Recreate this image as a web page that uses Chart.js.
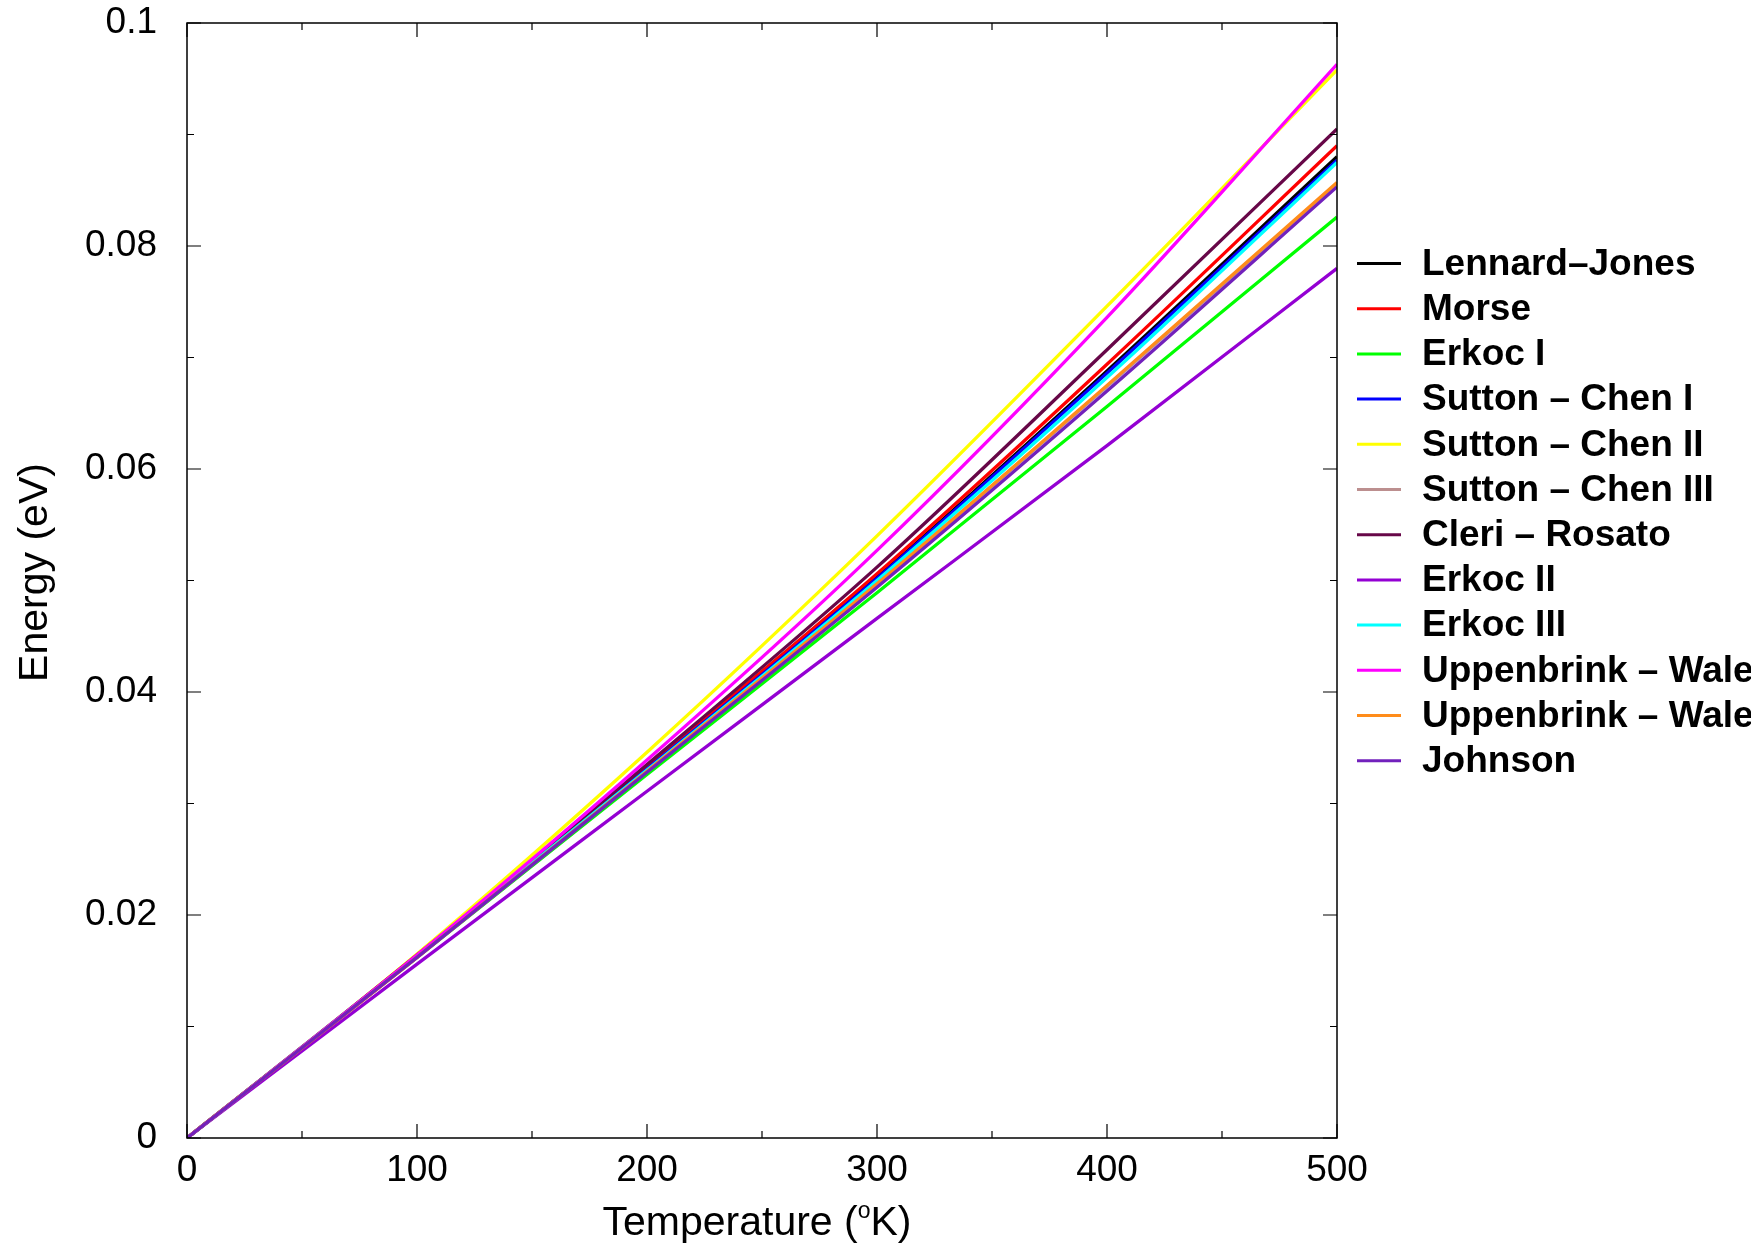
<!DOCTYPE html>
<html>
<head>
<meta charset="utf-8">
<script src="https://cdn.jsdelivr.net/npm/chart.js@4.4.1/dist/chart.umd.min.js"></script>
<style>
  html, body { margin: 0; padding: 0; background: #fff; }
  #wrap { width: 1751px; height: 1249px; position: relative; }
</style>
</head>
<body>
<div id="wrap"><canvas id="chart"></canvas></div>
<script>
// temperature grid (K) and thermal energy (eV) for each potential
const temperature = [0, 100, 200, 300, 400, 500];

const lennardJones   = [0, 0.0163, 0.0332, 0.0503, 0.0688, 0.0880];
const morse          = [0, 0.0163, 0.0333, 0.0506, 0.0694, 0.0890];
const erkocI         = [0, 0.0162, 0.0326, 0.0489, 0.0656, 0.0826];
const suttonChenI    = [0, 0.0163, 0.0331, 0.0502, 0.0686, 0.0877];
const suttonChenII   = [0, 0.0165, 0.0346, 0.0540, 0.0746, 0.0958];
const suttonChenIII  = [0, 0.0162, 0.0329, 0.0497, 0.0674, 0.0856];
const cleriRosato    = [0, 0.0164, 0.0335, 0.0512, 0.0707, 0.0905];
const erkocII        = [0, 0.0156, 0.0311, 0.0466, 0.0621, 0.0780];
const erkocIII       = [0, 0.0163, 0.0330, 0.0500, 0.0682, 0.0875];
const uppenbrinkI    = [0, 0.0164, 0.0339, 0.0527, 0.0736, 0.0963];
const uppenbrinkII   = [0, 0.0162, 0.0329, 0.0497, 0.0675, 0.0857];
const johnson        = [0, 0.0162, 0.0328, 0.0494, 0.0670, 0.0853];

const seriesNames = [
  'Lennard\u2013Jones', 'Morse', 'Erkoc I', 'Sutton \u2013 Chen I',
  'Sutton \u2013 Chen II', 'Sutton \u2013 Chen III', 'Cleri \u2013 Rosato',
  'Erkoc II', 'Erkoc III', 'Uppenbrink \u2013 Wales I',
  'Uppenbrink \u2013 Wales II', 'Johnson'
];
const seriesValues = [
  lennardJones, morse, erkocI, suttonChenI, suttonChenII, suttonChenIII,
  cleriRosato, erkocII, erkocIII, uppenbrinkI, uppenbrinkII, johnson
];
const seriesColors = [
  '#000000', '#ff0000', '#00ff00', '#0000ff', '#ffff00', '#bc8f8f',
  '#670748', '#9400d3', '#00ffff', '#ff00ff', '#ff8c1a', '#7221bc'
];

const xTicks = [0, 100, 200, 300, 400, 500];
const yTicks = [0, 0.02, 0.04, 0.06, 0.08, 0.1];

const FONT = '"Liberation Sans", Arial, Helvetica, sans-serif';

// inward ticks on all four sides plus the box
const framePlugin = {
  id: 'frame',
  afterDraw(chart) {
    const { ctx, chartArea: a, scales: { x, y } } = chart;
    ctx.save();
    ctx.strokeStyle = '#000';
    ctx.lineWidth = 1.5;
    ctx.strokeRect(a.left, a.top, a.right - a.left, a.bottom - a.top);
    ctx.lineWidth = 1.2;
    ctx.beginPath();
    for (let v = 0; v <= 500; v += 50) {
      const px = x.getPixelForValue(v);
      const len = v % 100 === 0 ? 14 : 7;
      ctx.moveTo(px, a.bottom); ctx.lineTo(px, a.bottom - len);
      ctx.moveTo(px, a.top); ctx.lineTo(px, a.top + len);
    }
    for (let i = 0; i <= 10; i++) {
      const py = y.getPixelForValue(i / 100);
      const len = i % 2 === 0 ? 14 : 7;
      ctx.moveTo(a.left, py); ctx.lineTo(a.left + len, py);
      ctx.moveTo(a.right, py); ctx.lineTo(a.right - len, py);
    }
    ctx.stroke();
    ctx.restore();
  }
};

// axis titles and the legend to the right of the plot
const labelsPlugin = {
  id: 'labels',
  afterDraw(chart) {
    const { ctx, chartArea: a } = chart;
    ctx.save();
    ctx.fillStyle = '#000';

    // x title with superscript o
    const main = '41px ' + FONT, sup = '23px ' + FONT;
    ctx.font = main;
    const w1 = ctx.measureText('Temperature (').width;
    const w3 = ctx.measureText('K)').width;
    ctx.font = sup;
    const w2 = ctx.measureText('o').width;
    const total = w1 + w2 + w3;
    let tx = (a.left + a.right) / 2 - total / 2 - 5;
    const base = 1235;
    ctx.textBaseline = 'alphabetic';
    ctx.textAlign = 'left';
    ctx.font = main;
    ctx.fillText('Temperature (', tx, base);
    tx += w1;
    ctx.font = sup;
    ctx.fillText('o', tx, base - 17);
    tx += w2;
    ctx.font = main;
    ctx.fillText('K)', tx, base);

    // y title
    ctx.save();
    ctx.translate(47, (a.top + a.bottom) / 2 - 8);
    ctx.rotate(-Math.PI / 2);
    ctx.textAlign = 'center';
    ctx.font = '41px ' + FONT;
    ctx.fillText('Energy (eV)', 0, 0);
    ctx.restore();

    // legend
    ctx.font = 'bold 37px ' + FONT;
    ctx.textBaseline = 'middle';
    chart.data.datasets.forEach((ds, i) => {
      const ly = 263.5 + i * 45.2;
      ctx.strokeStyle = ds.borderColor;
      ctx.lineWidth = 3;
      ctx.beginPath();
      ctx.moveTo(1357, ly);
      ctx.lineTo(1401, ly);
      ctx.stroke();
      ctx.fillStyle = '#000';
      ctx.fillText(ds.label, 1422, ly + 1);
    });
    ctx.restore();
  }
};

const datasets = seriesNames.map((name, i) => ({
  label: name,
  data: temperature.map((t, j) => ({ x: t, y: seriesValues[i][j] })),
  borderColor: seriesColors[i],
  borderWidth: 3.3,
  pointRadius: 0,
  cubicInterpolationMode: 'monotone',
  order: seriesNames.length - i
}));

new Chart(document.getElementById('chart'), {
  type: 'line',
  data: { datasets },
  options: {
    responsive: true,
    maintainAspectRatio: false,
    animation: false,
    layout: { padding: { left: 0, top: 23, right: 414, bottom: 0 } },
    plugins: { legend: { display: false }, tooltip: { enabled: false } },
    scales: {
      x: {
        type: 'linear',
        min: 0, max: 500,
        afterBuildTicks: s => { s.ticks = xTicks.map(v => ({ value: v })); },
        afterFit: s => { s.height = 111; s.paddingLeft = 0; s.paddingRight = 0; },
        grid: { display: false, drawTicks: false },
        border: { display: false },
        ticks: {
          padding: 11,
          maxRotation: 0,
          color: '#000',
          font: { family: FONT, size: 37 }
        }
      },
      y: {
        type: 'linear',
        min: 0, max: 0.1,
        afterBuildTicks: s => { s.ticks = yTicks.map(v => ({ value: v })); },
        afterFit: s => { s.width = 187; s.paddingTop = 0; s.paddingBottom = 0; },
        grid: { display: false, drawTicks: false },
        border: { display: false },
        ticks: {
          padding: 30,
          color: '#000',
          font: { family: FONT, size: 37 },
          callback: v => String(+v.toFixed(2))
        }
      }
    }
  },
  plugins: [framePlugin, labelsPlugin]
});
</script>
</body>
</html>
